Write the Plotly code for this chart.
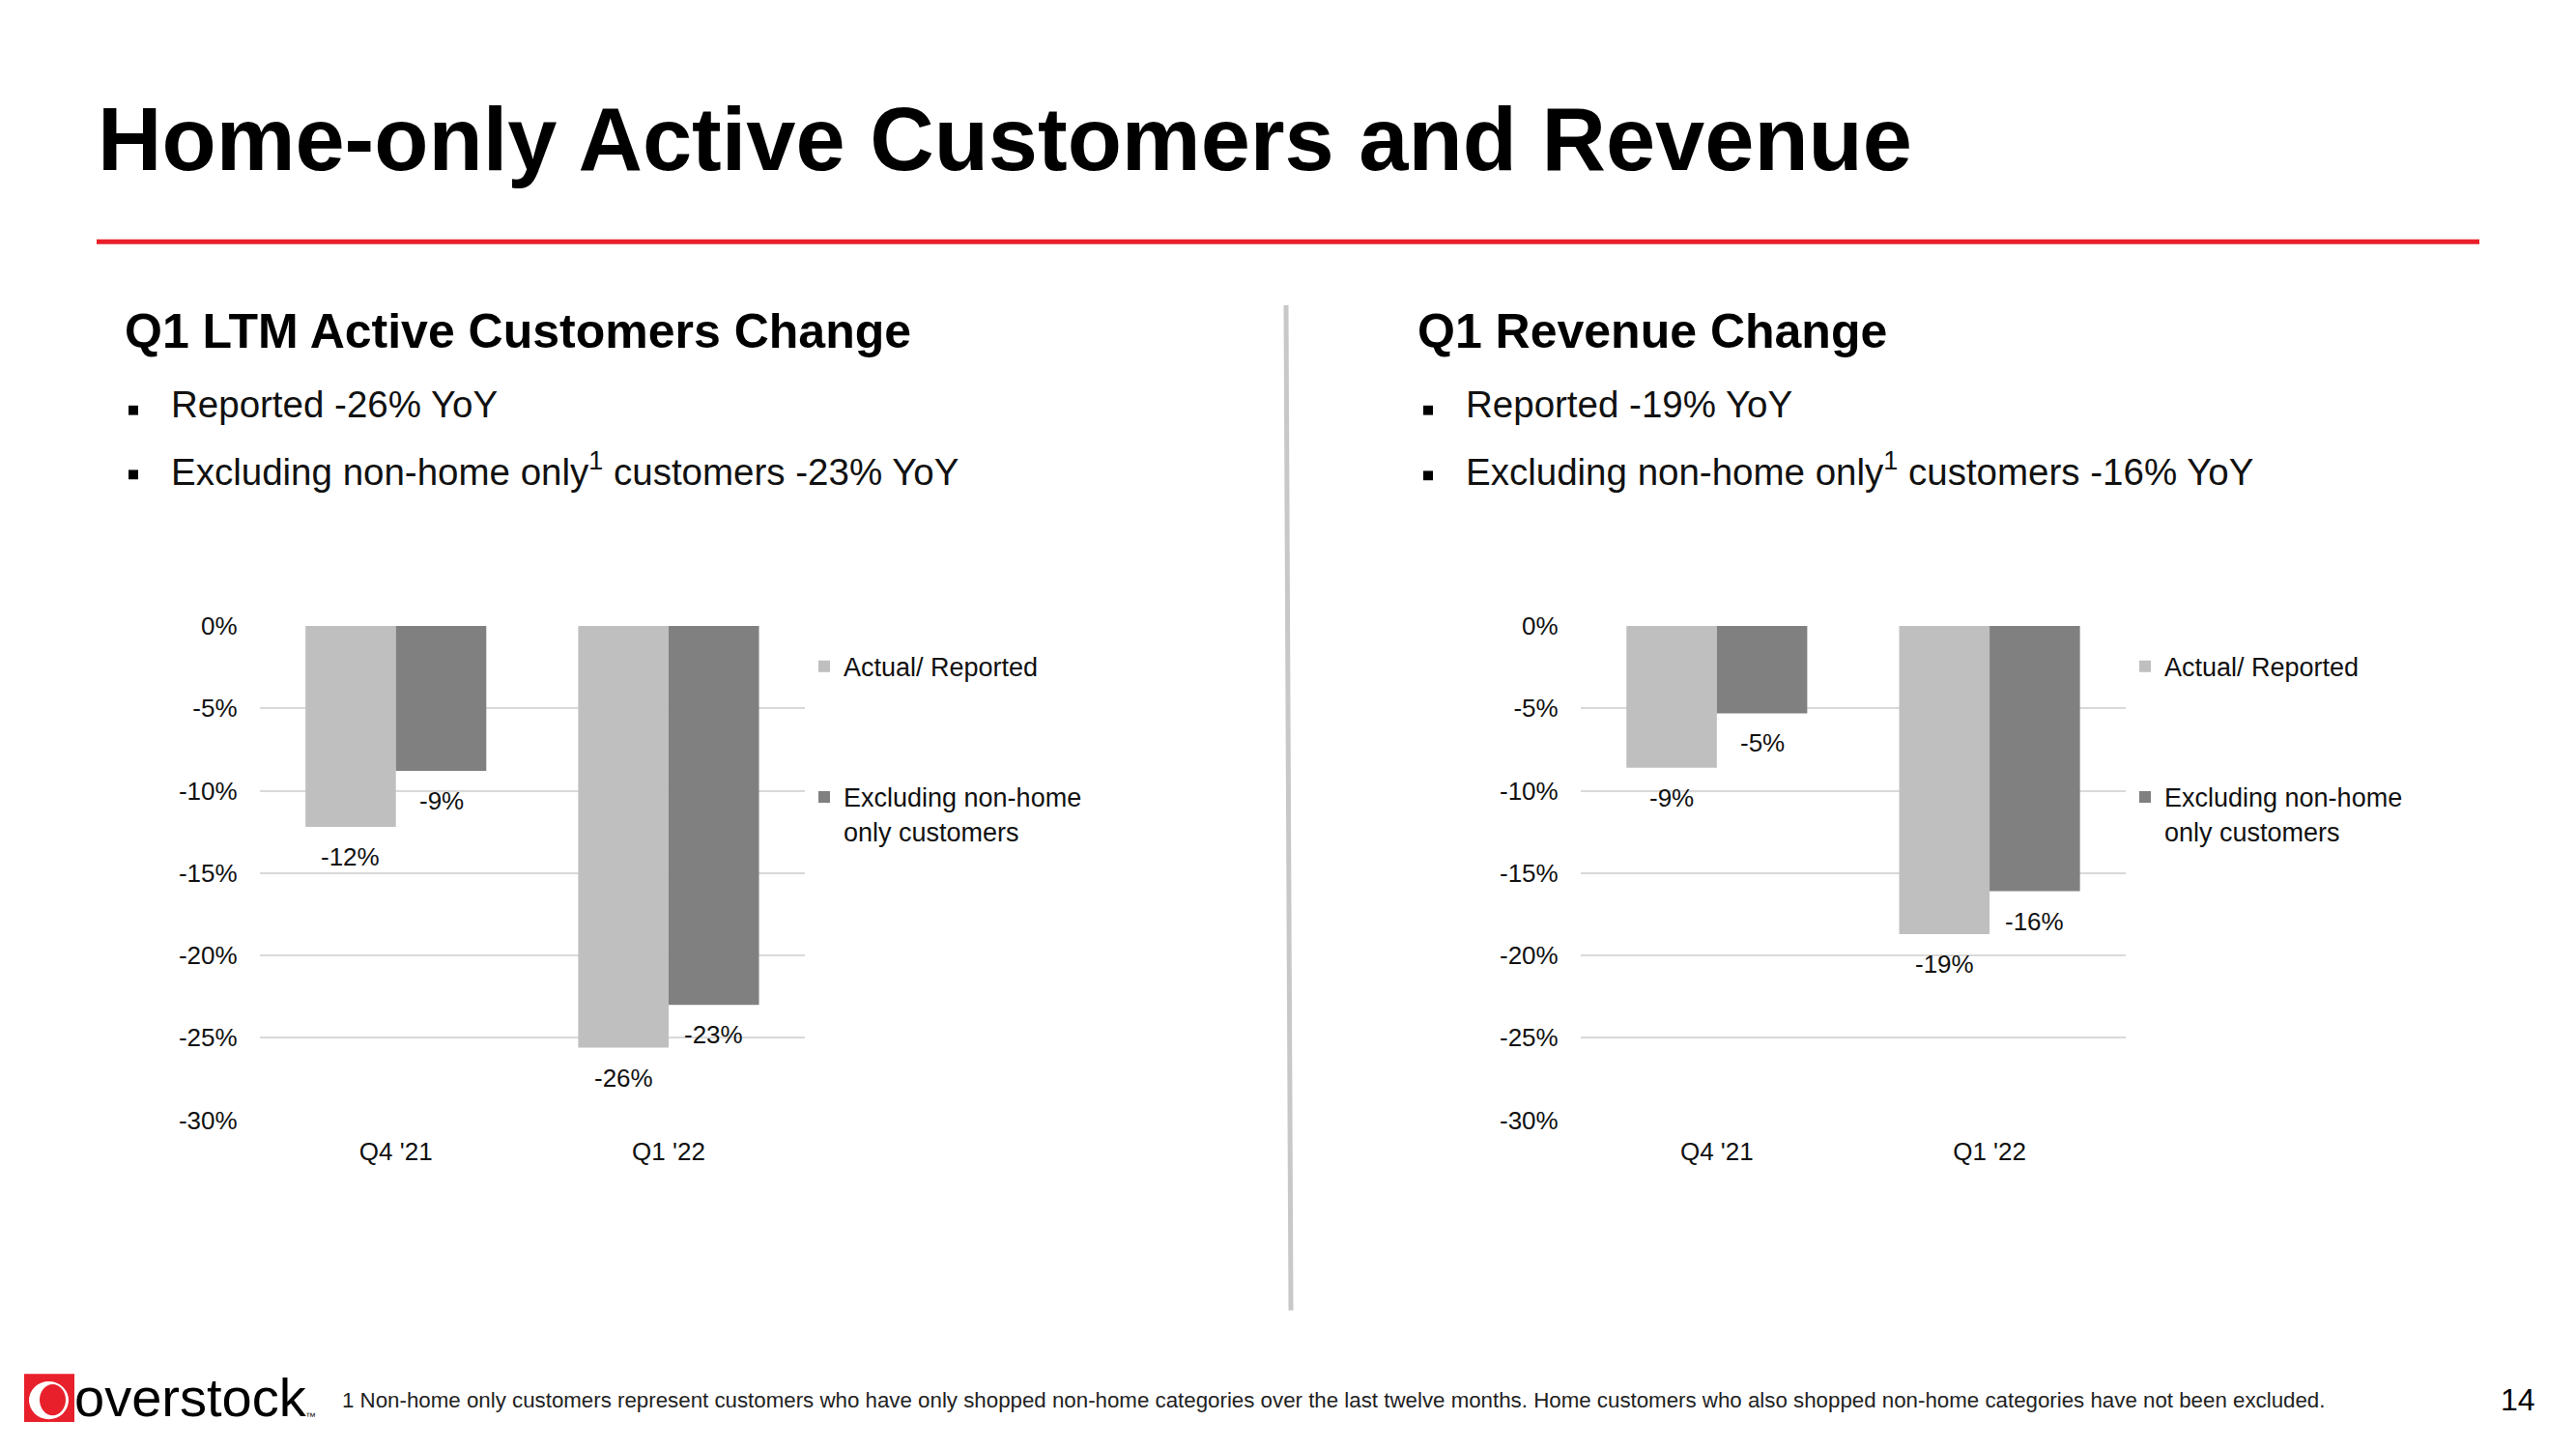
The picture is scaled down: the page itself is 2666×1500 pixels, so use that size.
import plotly.graph_objects as go

# Page is 2666x1500; the HTML body has an 8px margin, so the figure is 16px smaller
PAGE_W, PAGE_H = 2666, 1500
MARGIN = 8
W, H = PAGE_W - 2 * MARGIN, PAGE_H - 2 * MARGIN

# ---------------- data ----------------
categories = ["Q4 '21", "Q1 '22"]
series_names = ["Actual/ Reported", "Excluding non-home<br>only customers"]
customers_actual = [-12.2, -25.6]
customers_excl = [-8.8, -23.0]
revenue_actual = [-8.6, -18.7]
revenue_excl = [-5.3, -16.1]
y_tickvals = [0, -5, -10, -15, -20, -25, -30]
y_ticktext = ["0%", "-5%", "-10%", "-15%", "-20%", "-25%", "-30%"]

title_text = "Home-only Active Customers and Revenue"
left_heading = "Q1 LTM Active Customers Change"
left_bullets = ["Reported -26% YoY", "Excluding non-home only<sup>1</sup> customers -23% YoY"]
right_heading = "Q1 Revenue Change"
right_bullets = ["Reported -19% YoY", "Excluding non-home only<sup>1</sup> customers -16% YoY"]
footnote = ("1 Non-home only customers represent customers who have only shopped non-home "
            "categories over the last twelve months. Home customers who also shopped non-home "
            "categories have not been excluded.")
page_number = "14"
logo_text = "overstock"

# ---------------- style ----------------
LIGHT = "#BFBFBF"
DARK = "#808080"
GRID = "#D9D9D9"
RED = "#E8202B"
TXT = "#111111"
BODY = "Liberation Sans, Arial, sans-serif"


def fx(p):
    """page pixel x -> paper fraction"""
    return (p - MARGIN) / W


def fy(p):
    """page pixel y (from top) -> paper fraction"""
    return 1 - (p - MARGIN) / H


BARGAP = 0.337
PLOT_TOP, PLOT_BOTTOM = 646, 1168

panels = [
    dict(vals=(customers_actual, customers_excl), xa="x", xt="x2", ya="y",
         legend="legend", dom=(268.6, 833.1), leg_x=833),
    dict(vals=(revenue_actual, revenue_excl), xa="x3", xt="x4", ya="y2",
         legend="legend2", dom=(1635.7, 2200.2), leg_x=2200),
]

fig = go.Figure()
annotations = []
colors = [LIGHT, DARK]

for pi, p in enumerate(panels):
    cat_w = (p["dom"][1] - p["dom"][0]) / len(categories)
    half = cat_w * (1 - BARGAP) / 4
    for si, vals in enumerate(p["vals"]):
        fig.add_trace(go.Bar(
            x=categories, y=vals, name=series_names[si],
            marker=dict(color=colors[si], line=dict(width=0)),
            xaxis=p["xa"], yaxis=p["ya"], legend=p["legend"],
            legendgroup=f"p{pi}s{si}", hoverinfo="skip",
        ))
        for ci, v in enumerate(vals):
            annotations.append(dict(
                x=categories[ci], y=v, xref=p["xa"], yref=p["ya"],
                text=f"{v:.0f}%", showarrow=False,
                xshift=(-half if si == 0 else half), yshift=-31,
                xanchor="center", yanchor="middle",
                font=dict(family=BODY, size=26, color=TXT),
            ))

ydom = [fy(PLOT_BOTTOM), fy(PLOT_TOP)]
layout_axes = {}
for pi, p in enumerate(panels):
    xkey = "xaxis" if p["xa"] == "x" else "xaxis" + p["xa"][1:]
    xtkey = "xaxis" + p["xt"][1:]
    ykey = "yaxis" if p["ya"] == "y" else "yaxis" + p["ya"][1:]
    dom = [fx(p["dom"][0]), fx(p["dom"][1])]
    layout_axes[xkey] = dict(
        domain=dom, anchor=p["ya"], type="category", showgrid=False,
        showline=False, zeroline=False, ticks="",
        tickfont=dict(family=BODY, size=26, color=TXT), ticklabelstandoff=14,
    )
    layout_axes[xtkey] = dict(
        domain=dom, overlaying=p["xa"], anchor=p["ya"], side="top",
        range=[-0.5, 1.5], tickvals=[-0.5, 0.5, 1.5], ticks="outside",
        ticklen=9, tickwidth=2, tickcolor=GRID, showline=True, linecolor=GRID,
        linewidth=2, showticklabels=False, showgrid=False, zeroline=False,
    )
    layout_axes[ykey] = dict(
        domain=ydom, anchor=p["xa"], range=[-30, 0], tickvals=y_tickvals,
        ticktext=y_ticktext, showgrid=True, gridcolor=GRID, gridwidth=2,
        zeroline=False, showline=False, ticks="",
        tickfont=dict(family=BODY, size=26, color=TXT), ticklabelstandoff=22,
    )

legend_common = dict(
    xanchor="left", yanchor="top", font=dict(family=BODY, size=27, color=TXT),
    traceorder="grouped", tracegroupgap=97, valign="top",
    bgcolor="rgba(0,0,0,0)", itemwidth=30,
)

# ---------------- texts ----------------
annotations.append(dict(
    x=fx(99), y=fy(131), xref="paper", yref="paper", xanchor="left", yanchor="middle",
    text=title_text, showarrow=False,
    font=dict(family=BODY, size=92, color="#000000", weight="bold"),
))
for hx, tx, heading, bullets in [
    (127, 175, left_heading, left_bullets),
    (1465, 1515, right_heading, right_bullets),
]:
    annotations.append(dict(
        x=fx(hx), y=fy(335), xref="paper", yref="paper", xanchor="left", yanchor="middle",
        text=heading, showarrow=False,
        font=dict(family=BODY, size=50, color="#000000", weight="bold"),
    ))
    for by, btxt in zip([412, 481], bullets):
        annotations.append(dict(
            x=fx(tx), y=fy(by), xref="paper", yref="paper", xanchor="left", yanchor="middle",
            text=btxt, showarrow=False,
            font=dict(family=BODY, size=38.5, color=TXT),
        ))

annotations.append(dict(
    x=fx(352), y=fy(1464), xref="paper", yref="paper", xanchor="left", yanchor="middle",
    text=footnote, showarrow=False, font=dict(family=BODY, size=22.3, color="#222222"),
))
annotations.append(dict(
    x=fx(2606), y=fy(1463), xref="paper", yref="paper", xanchor="center", yanchor="middle",
    text=page_number, showarrow=False, font=dict(family=BODY, size=32, color="#000000"),
))
annotations.append(dict(
    x=fx(75), y=fy(1461), xref="paper", yref="paper", xanchor="left", yanchor="middle",
    text=logo_text, showarrow=False, font=dict(family=BODY, size=56, color="#000000"),
))
annotations.append(dict(
    x=fx(314), y=fy(1481), xref="paper", yref="paper", xanchor="left", yanchor="middle",
    text="™", showarrow=False, font=dict(family=BODY, size=11, color="#000000"),
))

# ---------------- shapes ----------------
LOGO_DY = 14
shapes = [
    dict(type="line", xref="paper", yref="paper", x0=fx(100), x1=fx(2566), y0=fy(240), y1=fy(240),
         line=dict(color=RED, width=5)),
    dict(type="line", xref="paper", yref="paper", x0=fx(1331), x1=fx(1336), y0=fy(307), y1=fy(1369),
         line=dict(color="#C8C8C8", width=5)),
    # logo
    dict(type="rect", xref="paper", yref="paper", x0=fx(25), x1=fx(77),
         y0=fy(1473 + LOGO_DY), y1=fy(1422 + LOGO_DY), fillcolor="#E8202B", line=dict(width=0)),
    dict(type="circle", xref="paper", yref="paper", x0=fx(30), x1=fx(71),
         y0=fy(1470 + LOGO_DY), y1=fy(1430 + LOGO_DY), fillcolor="#FFFFFF", line=dict(width=0)),
    dict(type="circle", xref="paper", yref="paper", x0=fx(41), x1=fx(68),
         y0=fy(1466 + LOGO_DY), y1=fy(1433 + LOGO_DY), fillcolor="#E8202B", line=dict(width=0)),
]
for bx, ys in [(138, [418, 486]), (1478, [418, 487])]:
    for by in ys:
        shapes.append(dict(type="rect", xref="paper", yref="paper",
                           x0=fx(bx - 5), x1=fx(bx + 5), y0=fy(by + 5), y1=fy(by - 5),
                           fillcolor="#000000", line=dict(width=0)))

fig.update_layout(
    width=W, height=H, margin=dict(l=0, r=0, t=0, b=0),
    paper_bgcolor="#FFFFFF", plot_bgcolor="#FFFFFF",
    barmode="group", bargap=BARGAP, bargroupgap=0,
    legend=dict(x=fx(panels[0]["leg_x"]), y=fy(664), **legend_common),
    legend2=dict(x=fx(panels[1]["leg_x"]), y=fy(664), **legend_common),
    annotations=annotations, shapes=shapes, **layout_axes,
)

fig.write_html("out.html")
